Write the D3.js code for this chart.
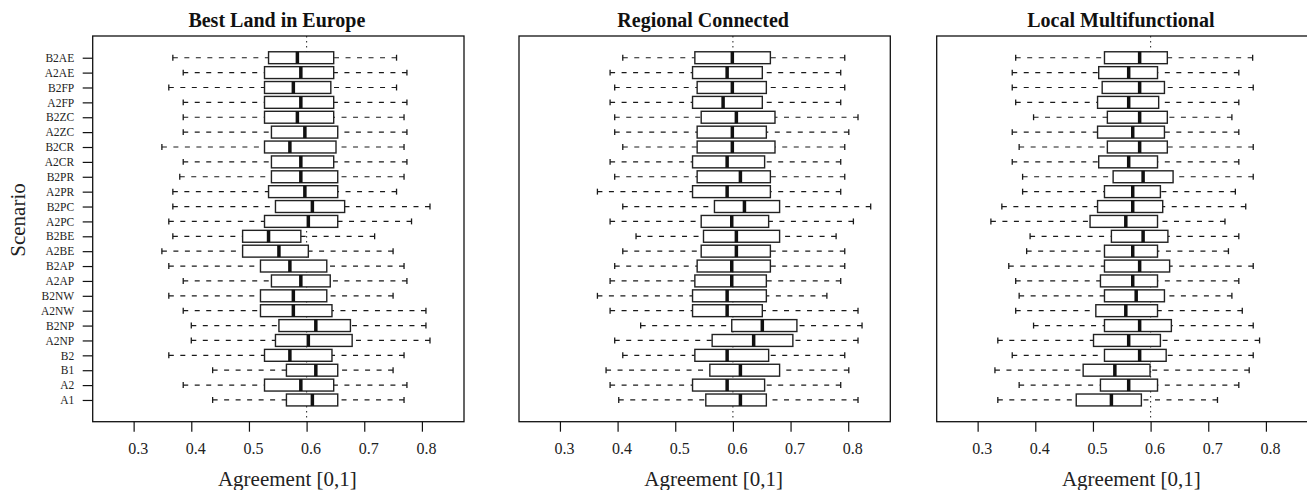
<!DOCTYPE html>
<html>
<head>
<meta charset="utf-8">
<script src="https://cdn.jsdelivr.net/npm/d3@7"></script>
<style>
  body { margin: 0; background: #fff; }
  svg { display: block; font-family: "Liberation Serif", "Times New Roman", serif; }
</style>
</head>
<body>
<div id="chart"></div>
<script>
// scenarios, bottom to top
const scenarios = ["A1", "A2", "B1", "B2", "A2NP", "B2NP", "A2NW", "B2NW", "A2AP", "B2AP",
  "A2BE", "B2BE", "A2PC", "B2PC", "A2PR", "B2PR", "A2CR", "B2CR", "A2ZC", "B2ZC",
  "A2FP", "B2FP", "A2AE", "B2AE"];

const panelTitles = ["Best Land in Europe", "Regional Connected", "Local Multifunctional"];
const xTicks = [0.3, 0.4, 0.5, 0.6, 0.7, 0.8];

// [whisker low, Q1, median, Q3, whisker high] per scenario
const bestLand = [
  [0.437, 0.565, 0.610, 0.654, 0.769], [0.386, 0.527, 0.590, 0.647, 0.774],
  [0.437, 0.565, 0.616, 0.654, 0.750], [0.361, 0.527, 0.571, 0.644, 0.769],
  [0.400, 0.546, 0.603, 0.679, 0.814], [0.400, 0.552, 0.616, 0.676, 0.807],
  [0.386, 0.520, 0.577, 0.644, 0.807], [0.361, 0.520, 0.577, 0.635, 0.750],
  [0.386, 0.539, 0.590, 0.641, 0.774], [0.361, 0.520, 0.571, 0.635, 0.769],
  [0.349, 0.489, 0.552, 0.603, 0.750], [0.368, 0.489, 0.534, 0.590, 0.718],
  [0.361, 0.527, 0.603, 0.654, 0.782], [0.368, 0.546, 0.610, 0.666, 0.814],
  [0.368, 0.534, 0.597, 0.654, 0.756], [0.380, 0.539, 0.590, 0.654, 0.769],
  [0.386, 0.539, 0.590, 0.647, 0.774], [0.349, 0.527, 0.571, 0.651, 0.769],
  [0.386, 0.539, 0.597, 0.654, 0.774], [0.386, 0.527, 0.584, 0.647, 0.769],
  [0.386, 0.527, 0.590, 0.647, 0.774], [0.361, 0.527, 0.577, 0.642, 0.756],
  [0.386, 0.527, 0.590, 0.647, 0.774], [0.368, 0.534, 0.584, 0.647, 0.756]
];

const regional = [
  [0.402, 0.553, 0.613, 0.658, 0.817], [0.387, 0.530, 0.590, 0.655, 0.787],
  [0.380, 0.560, 0.613, 0.681, 0.801], [0.409, 0.534, 0.590, 0.662, 0.794],
  [0.395, 0.564, 0.636, 0.704, 0.817], [0.440, 0.598, 0.651, 0.711, 0.824],
  [0.387, 0.530, 0.590, 0.651, 0.817], [0.365, 0.530, 0.590, 0.658, 0.763],
  [0.387, 0.534, 0.598, 0.658, 0.787], [0.395, 0.538, 0.598, 0.665, 0.794],
  [0.409, 0.545, 0.606, 0.665, 0.794], [0.432, 0.549, 0.606, 0.681, 0.779],
  [0.387, 0.545, 0.598, 0.662, 0.809], [0.409, 0.568, 0.620, 0.681, 0.839],
  [0.365, 0.530, 0.590, 0.665, 0.787], [0.395, 0.538, 0.613, 0.665, 0.794],
  [0.387, 0.530, 0.590, 0.655, 0.787], [0.409, 0.538, 0.599, 0.673, 0.794],
  [0.395, 0.538, 0.599, 0.658, 0.801], [0.395, 0.545, 0.606, 0.673, 0.817],
  [0.387, 0.530, 0.583, 0.651, 0.787], [0.395, 0.538, 0.599, 0.658, 0.794],
  [0.387, 0.530, 0.590, 0.651, 0.787], [0.409, 0.534, 0.599, 0.665, 0.794]
];

const localMulti = [
  [0.335, 0.471, 0.532, 0.584, 0.716], [0.372, 0.513, 0.562, 0.612, 0.753],
  [0.330, 0.483, 0.538, 0.599, 0.771], [0.360, 0.520, 0.581, 0.627, 0.778],
  [0.335, 0.501, 0.562, 0.617, 0.789], [0.397, 0.520, 0.581, 0.636, 0.778],
  [0.366, 0.505, 0.557, 0.612, 0.759], [0.372, 0.520, 0.575, 0.624, 0.741],
  [0.366, 0.513, 0.569, 0.612, 0.753], [0.354, 0.520, 0.581, 0.633, 0.778],
  [0.385, 0.520, 0.569, 0.612, 0.735], [0.391, 0.532, 0.587, 0.630, 0.753],
  [0.323, 0.495, 0.557, 0.612, 0.729], [0.342, 0.508, 0.569, 0.621, 0.765],
  [0.378, 0.520, 0.569, 0.617, 0.747], [0.378, 0.535, 0.587, 0.639, 0.778],
  [0.360, 0.510, 0.562, 0.612, 0.753], [0.372, 0.525, 0.581, 0.629, 0.778],
  [0.360, 0.508, 0.569, 0.624, 0.753], [0.397, 0.525, 0.581, 0.629, 0.741],
  [0.366, 0.508, 0.562, 0.614, 0.753], [0.360, 0.516, 0.581, 0.624, 0.778],
  [0.360, 0.510, 0.562, 0.612, 0.753], [0.366, 0.520, 0.581, 0.629, 0.777]
];

const panelData = [bestLand, regional, localMulti];

const W = 1307, H = 490;
const panelLeft = [92.7, 519, 936.7];
const panelW = 371.3, plotTop = 36, plotBottom = 421.7;

const svg = d3.select("#chart").append("svg")
  .attr("width", W).attr("height", H);

const x = d3.scaleLinear().domain([0.229, 0.873]).range([0, panelW]);
const y = d3.scaleLinear().domain([-0.46, 25.46]).range([plotBottom, plotTop]);
const boxH = (y(0) - y(1)) * 0.8;

panelData.forEach((rows, p) => {
  const g = svg.append("g").attr("transform", `translate(${panelLeft[p]},0)`);

  // reference line at 0.6
  g.append("line")
    .attr("x1", x(0.6)).attr("x2", x(0.6))
    .attr("y1", plotTop).attr("y2", plotBottom)
    .attr("stroke", "#333").attr("stroke-width", 1.1)
    .attr("stroke-dasharray", "1.5,3.5");

  const box = g.selectAll("g.box").data(rows).enter().append("g")
    .attr("class", "box")
    .attr("transform", (d, i) => `translate(0,${y(i + 1)})`);

  // whiskers, drawn from the staple toward the box
  box.append("line")
    .attr("x1", d => x(d[0])).attr("x2", d => x(d[1]))
    .attr("stroke", "#1a1a1a").attr("stroke-width", 1.2).attr("stroke-dasharray", "5,6.5");
  box.append("line")
    .attr("x1", d => x(d[4])).attr("x2", d => x(d[3]))
    .attr("stroke", "#1a1a1a").attr("stroke-width", 1.2).attr("stroke-dasharray", "5,6.5");

  // staples
  [0, 4].forEach(k => {
    box.append("line")
      .attr("x1", d => x(d[k])).attr("x2", d => x(d[k]))
      .attr("y1", -boxH / 4).attr("y2", boxH / 4)
      .attr("stroke", "#1a1a1a").attr("stroke-width", 1.3);
  });

  box.append("rect")
    .attr("x", d => x(d[1]))
    .attr("width", d => x(d[3]) - x(d[1]))
    .attr("y", -boxH / 2).attr("height", boxH)
    .attr("fill", "#fff").attr("stroke", "#222").attr("stroke-width", 1.4);

  box.append("line")
    .attr("x1", d => x(d[2])).attr("x2", d => x(d[2]))
    .attr("y1", -boxH / 2).attr("y2", boxH / 2)
    .attr("stroke", "#111").attr("stroke-width", 3.5);

  // panel frame
  g.append("rect")
    .attr("x", 0).attr("y", plotTop)
    .attr("width", panelW).attr("height", plotBottom - plotTop)
    .attr("fill", "none").attr("stroke", "#111").attr("stroke-width", 1.3);

  // x axis
  const xa = g.append("g")
    .attr("transform", `translate(0,${plotBottom})`)
    .call(d3.axisBottom(x).tickValues(xTicks).tickFormat(d3.format(".1f"))
      .tickSize(10).tickPadding(11));
  xa.select(".domain").remove();
  xa.selectAll("line").attr("stroke", "#111").attr("stroke-width", 1.2);
  xa.selectAll("text")
    .attr("dx", 4)
    .attr("fill", "#222")
    .style("font-family", "Liberation Serif, serif")
    .style("font-size", "16px");

  g.append("text")
    .attr("x", panelW / 2 + 9).attr("y", 486)
    .attr("text-anchor", "middle")
    .attr("fill", "#222")
    .style("font-size", "21px")
    .text("Agreement [0,1]");

  g.append("text")
    .attr("x", panelW / 2 - 1.5).attr("y", 26.7)
    .attr("text-anchor", "middle")
    .attr("fill", "#111")
    .style("font-size", "20px")
    .style("font-weight", "bold")
    .text(panelTitles[p]);

  if (p === 0) {
    const ya = g.append("g")
      .call(d3.axisLeft(y).tickValues(d3.range(1, scenarios.length + 1))
        .tickFormat(i => scenarios[i - 1]).tickSize(10).tickPadding(8.5));
    ya.select(".domain").remove();
    ya.selectAll("line").attr("stroke", "#111").attr("stroke-width", 1.2);
    ya.selectAll("text")
      .attr("fill", "#222")
      .style("font-family", "Liberation Serif, serif")
      .style("font-size", "11.5px");
  }
});

svg.append("text")
  .attr("transform", "translate(25,220) rotate(-90)")
  .attr("text-anchor", "middle")
  .attr("fill", "#222")
  .style("font-size", "21px")
  .text("Scenario");
</script>
</body>
</html>
